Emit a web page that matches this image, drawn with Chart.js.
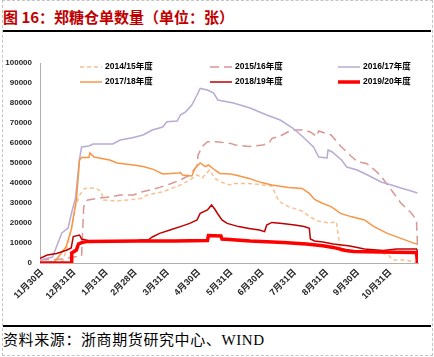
<!DOCTYPE html>
<html><head><meta charset="utf-8">
<script src="https://cdn.jsdelivr.net/npm/chart.js@4"></script>
<style>
html,body{margin:0;padding:0;background:#fff;}
body{width:434px;height:357px;position:relative;overflow:hidden;}
#frame{position:absolute;left:2px;top:0;width:429px;height:354px;border:1px dashed #C4C4C4;}
#title{position:absolute;left:3px;top:6px;font:bold 15px/22px "Noto Sans CJK SC",sans-serif;color:#C00000;white-space:nowrap;}
#rule1{position:absolute;left:3px;top:30px;width:428px;height:2px;background:#000;}
#wrap{position:absolute;left:0;top:36px;width:434px;height:284px;}
#rule2{position:absolute;left:3px;top:325px;width:428px;height:2px;background:#000;}
#source{position:absolute;left:3px;top:330px;font:15px/20px "Liberation Serif","Noto Sans CJK SC",serif;letter-spacing:0.6px;color:#000;white-space:nowrap;}
</style></head>
<body>
<div id="frame"></div>
<div id="title">图 16：郑糖仓单数量（单位：张）</div>
<div id="rule1"></div>
<div id="wrap"><canvas id="c"></canvas></div>
<div id="rule2"></div>
<div id="source">资料来源：浙商期货研究中心、WIND</div>
<script>
// x values are days counted from 11月30日
const tickDays = [0,31,62,90,121,151,182,212,243,274,304,335];
const tickLabels = ['11月30日','12月31日','1月31日','2月28日','3月31日','4月30日','5月31日','6月30日','7月31日','8月31日','9月30日','10月31日'];
const yTicks = [0,10000,20000,30000,40000,50000,60000,70000,80000,90000,100000];
const seriesNames = ['2014/15年度','2015/16年度','2016/17年度','2017/18年度','2018/19年度','2019/20年度'];

const days1415 = [-2,14,20,24,29,32,36,41,52,57,59,70,83,95,101,116,133,142,149,154,161,166,171,181,183,199,212,221,224,228,237,250,258,265,276,283,285,287,293,326,333,337,349,358,361];
const vals1415 = [0,0,1000,8000,19000,28000,34000,37300,37500,35500,31500,31000,31500,32300,34000,35600,39000,41500,44000,42500,46500,42500,40600,39000,39800,39800,39000,38500,34800,30700,28200,26000,23000,21000,20000,20700,13000,6000,5600,5200,4000,1500,1500,500,0];

const days1516 = [-2,20,30,38,40,42,44,56,65,75,88,94,104,113,123,133,142,149,150,154,159,168,181,186,199,212,218,221,228,240,250,258,264,266,278,287,297,303,312,322,328,338,345,355,360,361];
const vals1516 = [1500,2000,3000,3500,28000,31000,31500,32500,33000,34000,34000,35300,36500,37800,39500,41500,44000,48500,54000,58200,60600,60600,59800,59000,58200,59000,59800,62300,63200,66500,66500,65500,63300,66000,64000,58500,53500,50700,49800,45500,42000,35000,30000,25000,21500,9000];

const days1617 = [-2,10,19,25,29,32,36,38,45,49,68,75,87,97,106,116,120,130,133,138,144,149,152,159,165,169,184,200,216,229,241,251,261,266,274,275,279,288,293,303,313,326,336,345,355,361];
const vals1617 = [1500,3000,15000,17500,26500,32000,52000,58000,58500,59500,59500,61500,62600,64000,66500,68000,70600,71000,74000,75600,79000,84000,87300,86500,85000,81500,80000,77500,74000,71500,67500,63000,58000,53000,52500,56500,55500,51500,48000,46500,44000,40500,39000,37500,36000,35000];

const days1718 = [-2,12,23,28,33,36,38,45,46,50,65,72,88,97,107,116,132,133,135,144,147,152,157,160,166,171,181,186,199,211,221,237,250,257,262,269,278,287,297,310,319,332,345,358,361];
const vals1718 = [0,500,8000,16500,31500,51500,52700,52700,55000,53000,51500,50000,49000,48200,46800,44500,45000,45300,44000,43500,47300,50000,48200,49000,46500,44800,44500,44000,42300,40200,39000,37800,37300,34800,31800,30000,28200,24800,23200,21500,18200,14800,12300,9800,9500];

const days1819 = [-2,5,14,24,28,30,36,38,44,50,90,95,102,106,113,123,133,142,149,152,159,163,166,169,173,178,189,199,209,214,216,221,231,243,252,257,258,262,270,280,296,310,328,341,360,361];
const vals1819 = [2300,4000,4800,6500,7500,13200,14000,12000,11200,10800,11000,11500,11500,13000,14800,16500,18200,19800,21500,24800,26500,29000,27000,24500,21500,19800,18200,17300,16500,15700,19000,20300,19800,19000,18200,17300,12000,11000,10500,9500,8500,7000,6300,7000,7000,6000];

const days1920 = [-2,28,28.5,33,35,38,44,92,127,159,160,172,173,180,200,232,254,270,280,292,300,340,360,361];
const vals1920 = [0,0,5000,6500,9500,10200,10800,11000,11000,11200,13700,13500,12000,11800,11000,10200,9500,8600,7800,6300,5800,5400,5300,0];

const FONT = '"Liberation Sans","Noto Sans CJK SC",sans-serif';
const pts = (d, v) => d.map((x, i) => ({x: x, y: v[i]}));

const styles = [
  {color:'#FAC08F', width:1.5, dash:[4,3], order:5},
  {color:'#D99694', width:1.5, dash:[9,5], order:4},
  {color:'#B9ABD3', width:1.5, dash:[], order:3},
  {color:'#F79646', width:1.5, dash:[], order:2},
  {color:'#C00000', width:1.5, dash:[], order:1},
  {color:'#FF0000', width:3.5, dash:[], order:0}
];
const seriesData = [pts(days1415,vals1415),pts(days1516,vals1516),pts(days1617,vals1617),pts(days1718,vals1718),pts(days1819,vals1819),pts(days1920,vals1920)];

const datasets = seriesNames.map((n, i) => ({
  label: n, data: seriesData[i],
  borderColor: styles[i].color, backgroundColor: styles[i].color,
  borderWidth: styles[i].width, borderDash: styles[i].dash, order: styles[i].order,
  pointRadius: 0, tension: 0, fill: false
}));

const gridLegend = {
  id: 'gridLegend',
  afterDatasetsDraw(chart) {
    const ctx = chart.ctx;
    const colX = [80, 210, 338], rowY = [31, 46];
    ctx.save();
    chart.data.datasets.forEach((ds, i) => {
      const cx = colX[i % 3], cy = rowY[Math.floor(i / 3)];
      ctx.beginPath();
      ctx.setLineDash(ds.borderDash || []);
      ctx.lineWidth = ds.borderWidth;
      ctx.strokeStyle = ds.borderColor;
      ctx.moveTo(cx, cy); ctx.lineTo(cx + 22, cy); ctx.stroke();
      ctx.setLineDash([]);
      ctx.fillStyle = '#000';
      ctx.font = 'bold 8.5px ' + FONT;
      ctx.textBaseline = 'middle';
      ctx.textAlign = 'left';
      ctx.fillText(ds.label, cx + 25, cy);
    });
    ctx.restore();
  }
};

new Chart(document.getElementById('c'), {
  type: 'line',
  data: {datasets},
  plugins: [gridLegend],
  options: {
    responsive: true, maintainAspectRatio: false, animation: false, devicePixelRatio: 1,
    layout: {padding: {left: 0, right: 16, top: 27, bottom: 0}},
    plugins: {legend: {display: false}, tooltip: {enabled: false}},
    scales: {
      x: {
        type: 'linear', min: -2, max: 361.5,
        afterBuildTicks: s => { s.ticks = tickDays.map(v => ({value: v})); },
        afterFit: s => { s.height = 57; },
        ticks: {autoSkip: false, minRotation: 45, maxRotation: 45, padding: 4,
          font: {size: 9, weight: 'bold', family: FONT}, color: '#262626',
          callback: (v, i) => tickLabels[i]},
        grid: {color: 'rgba(0,0,0,0)', drawTicks: false},
        border: {color: '#B0B0B0', width: 1}
      },
      y: {
        min: 0, max: 100000,
        afterBuildTicks: s => { s.ticks = yTicks.map(v => ({value: v})); },
        afterFit: s => { s.width = 40; },
        ticks: {padding: 8, font: {size: 8, weight: 'bold', family: FONT}, color: '#262626',
          callback: v => String(v)},
        grid: {color: 'rgba(0,0,0,0)', drawTicks: false},
        border: {color: '#B0B0B0', width: 1}
      }
    }
  }
});
</script>
</body></html>
